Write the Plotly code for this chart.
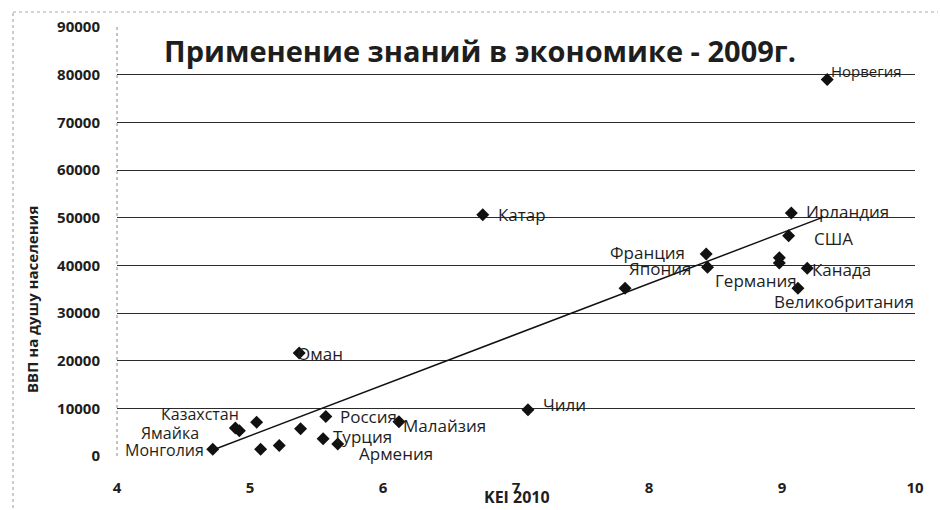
import plotly.graph_objects as go

# ---- data ----
countries = ["Монголия", "Ямайка", "", "Казахстан", "", "", "", "Россия", "Турция", "Армения",
             "Малайзия", "Чили", "Оман", "Катар", "Норвегия", "Ирландия", "США", "Франция",
             "Япония", "Германия", "", "Канада", "Великобритания", ""]
kei = [4.72, 4.92, 4.89, 5.05, 5.08, 5.22, 5.38, 5.57, 5.55, 5.66,
       6.12, 7.09, 5.37, 6.75, 9.34, 9.07, 9.05, 8.43,
       8.44, 8.98, 8.98, 9.19, 9.12, 7.82]
gdp = [1400, 5300, 5900, 7100, 1400, 2200, 5700, 8300, 3600, 2500,
       7200, 9700, 21600, 50600, 79000, 51000, 46200, 42400,
       39600, 40500, 41600, 39400, 35200, 35200]
trend_x = [4.72, 9.30]
trend_y = [1260, 50000]
x_ticks = [4, 5, 6, 7, 8, 9, 10]
y_ticks = [0, 10000, 20000, 30000, 40000, 50000, 60000, 70000, 80000, 90000]
y_tick_text = [str(v) for v in y_ticks]

# label placement (style): xanchor, xshift, yshift in pixels, font size
label_style = {
    "Монголия": ("right", -7, -1, 16), "Ямайка": ("right", -38, -2, 16), "Казахстан": ("right", -16, 8, 16),
    "Россия": ("left", 12, 0, 17), "Турция": ("left", 8, 2, 17), "Армения": ("left", 19, -9, 17),
    "Малайзия": ("left", 2, -4, 17), "Чили": ("left", 13, 5, 17), "Оман": ("left", -4, 0, 17),
    "Катар": ("left", 13, 0, 17), "Норвегия": ("left", 2, 8, 15), "Ирландия": ("left", 13, 1, 17),
    "США": ("left", 23, -3, 17), "Франция": ("right", -19, 1, 17), "Япония": ("right", -14, -1, 17),
    "Германия": ("left", -66, -18, 17), "Канада": ("left", 3, -1, 17), "Великобритания": ("left", -26, -13, 17),
}

FONT = "Open Sans"
INK = "#1e1e1e"

fig = go.Figure()
fig.add_trace(go.Scatter(x=trend_x, y=trend_y, mode="lines",
                         line=dict(color="#111", width=1.5), hoverinfo="skip", showlegend=False))
fig.add_trace(go.Scatter(x=kei, y=gdp, mode="markers",
                         marker=dict(symbol="diamond", size=10, color="#111"),
                         text=countries, showlegend=False))

annotations = []
for name, xv, yv in zip(countries, kei, gdp):
    if not name:
        continue
    anchor, xs, ys, fs = label_style[name]
    annotations.append(dict(x=xv, y=yv, xref="x", yref="y", text=name, showarrow=False,
                            xanchor=anchor, yanchor="middle", xshift=xs, yshift=ys,
                            font=dict(family=FONT, size=fs, color=INK)))

# axis titles
annotations.append(dict(x=(517 - 117) / 798, y=(456 - 497) / 429, xref="paper", yref="paper",
                        text="<b>KEI 2010</b>", showarrow=False, xanchor="center", yanchor="middle",
                        font=dict(family=FONT, size=16, color=INK)))
annotations.append(dict(x=(32 - 117) / 798, y=(456 - 300) / 429, xref="paper", yref="paper",
                        text="<b>ВВП на душу населения</b>", showarrow=False, textangle=-90,
                        xanchor="center", yanchor="middle",
                        font=dict(family=FONT, size=15, color=INK)))

shapes = [
    # dotted left axis line
    dict(type="line", xref="x domain", yref="y domain", x0=0, x1=0, y0=0, y1=1,
         line=dict(color="#888", width=1, dash="dot")),
    # scanned outer border (left & top)
    dict(type="line", xref="paper", yref="paper", x0=(13 - 117) / 798, x1=(13 - 117) / 798,
         y0=(456 - 508) / 429, y1=(456 - 12) / 429, line=dict(color="#999", width=1, dash="dot")),
    dict(type="line", xref="paper", yref="paper", x0=(13 - 117) / 798, x1=(938 - 117) / 798,
         y0=(456 - 12) / 429, y1=(456 - 12) / 429, line=dict(color="#aaa", width=1, dash="dot")),
]

fig.update_layout(
    width=940, height=510,
    margin=dict(l=117, r=25, t=27, b=54),
    paper_bgcolor="white", plot_bgcolor="white",
    title=dict(text="<b>Применение знаний в экономике - 2009г.</b>", x=480 / 940, xanchor="center",
               y=1 - 52 / 510, yanchor="middle", font=dict(family=FONT, size=29, color=INK)),
    xaxis=dict(range=[4, 10], tickvals=x_ticks, showgrid=False, zeroline=False, showline=False,
               ticks="outside", ticklen=18, tickcolor="rgba(0,0,0,0)",
               tickfont=dict(family=FONT, size=15, color=INK, weight="bold")),
    yaxis=dict(range=[0, 90000], tickvals=y_ticks, ticktext=y_tick_text,
               showgrid=True, gridcolor="#2b2b2b", gridwidth=1.3,
               zeroline=False, showline=False, ticks="outside", ticklen=13,
               tickcolor="rgba(0,0,0,0)",
               tickfont=dict(family=FONT, size=15, color=INK, weight="bold")),
    annotations=annotations, shapes=shapes,
)

fig.write_html("out.html")
